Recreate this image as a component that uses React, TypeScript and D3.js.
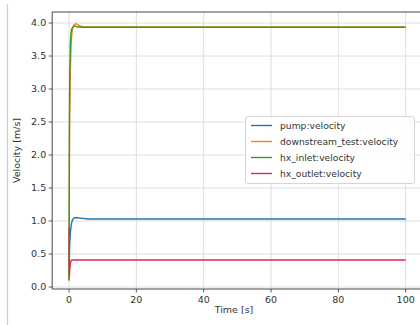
import React from "react";
import * as d3 from "d3";

const time = [0, 0.1, 0.2, 0.4, 0.6, 0.8, 1.0, 1.2, 1.5, 2, 2.5, 3, 4, 5, 6, 8, 10, 15, 20, 30, 40, 50, 60, 70, 80, 90, 100];
const pump = [0.2, 0.45, 0.65, 0.82, 0.92, 0.98, 1.01, 1.03, 1.045, 1.05, 1.05, 1.045, 1.04, 1.035, 1.03, 1.03, 1.03, 1.03, 1.03, 1.03, 1.03, 1.03, 1.03, 1.03, 1.03, 1.03, 1.03];
const downstream = [0.1, 1.6, 2.6, 3.3, 3.65, 3.82, 3.9, 3.94, 3.97, 3.99, 3.98, 3.96, 3.945, 3.94, 3.94, 3.94, 3.94, 3.94, 3.94, 3.94, 3.94, 3.94, 3.94, 3.94, 3.94, 3.94, 3.94];
const hxInlet = [0.1, 2.4, 3.2, 3.7, 3.86, 3.91, 3.93, 3.94, 3.96, 3.95, 3.94, 3.94, 3.935, 3.935, 3.935, 3.935, 3.935, 3.935, 3.935, 3.935, 3.935, 3.935, 3.935, 3.935, 3.935, 3.935, 3.935];
const hxOutlet = [0.9, 0.15, 0.25, 0.36, 0.4, 0.41, 0.41, 0.41, 0.41, 0.41, 0.41, 0.41, 0.41, 0.41, 0.41, 0.41, 0.41, 0.41, 0.41, 0.41, 0.41, 0.41, 0.41, 0.41, 0.41, 0.41, 0.41];

const seriesNames = ["pump:velocity", "downstream_test:velocity", "hx_inlet:velocity", "hx_outlet:velocity"];
const seriesValues = [pump, downstream, hxInlet, hxOutlet];
const seriesColors = ["#1f77b4", "#ff7f0e", "#2ca02c", "#dd2c4c"];
const xTicks = [0, 20, 40, 60, 80, 100];
const yTicks = [0, 0.5, 1.0, 1.5, 2.0, 2.5, 3.0, 3.5, 4.0];

export default function App() {
  const W = 420, H = 325;
  const left = 52.2, right = 422.5, top = 12, bottom = 289;
  const x = d3.scaleLinear().domain([-5, 105]).range([left, right]);
  const y = d3.scaleLinear().domain([-0.03, 4.167]).range([bottom, top]);
  const font = "DejaVu Sans, sans-serif";
  const line = (vals: number[]) =>
    d3.line<number>().x((_, i) => x(time[i])).y((v) => y(v))(vals) || "";

  return (
    <svg width={W} height={H} style={{ position: "absolute", left: 0, top: 0, background: "#fff" }} fontFamily={font}>
      <rect x={0} y={0} width={W} height={H} fill="#fff" />
      <line x1={7.5} x2={7.5} y1={4} y2={H} stroke="#cfcfcf" strokeWidth={1.2} />
      <defs>
        <clipPath id="plot">
          <rect x={left} y={top} width={right - left} height={bottom - top} />
        </clipPath>
      </defs>
      {xTicks.map((t) => (
        <line key={"gx" + t} x1={x(t)} x2={x(t)} y1={top} y2={bottom} stroke="#d6d6d6" strokeWidth={0.8} />
      ))}
      {yTicks.map((t) => (
        <line key={"gy" + t} x1={left} x2={right} y1={y(t)} y2={y(t)} stroke="#d6d6d6" strokeWidth={0.8} />
      ))}
      <g clipPath="url(#plot)">
        {seriesValues.map((vals, i) => (
          <path key={i} d={line(vals)} fill="none" stroke={seriesColors[i]} strokeWidth={1.4} strokeLinejoin="round" />
        ))}
      </g>
      <line x1={left} x2={left} y1={top} y2={bottom} stroke="#333" strokeWidth={0.9} />
      <line x1={left} x2={right} y1={bottom} y2={bottom} stroke="#333" strokeWidth={0.9} />
      <line x1={left} x2={right} y1={top} y2={top} stroke="#333" strokeWidth={0.9} />
      <line x1={right} x2={right} y1={top} y2={bottom} stroke="#333" strokeWidth={0.9} />
      {xTicks.map((t) => (
        <g key={"xt" + t}>
          <line x1={x(t)} x2={x(t)} y1={bottom} y2={bottom + 3.5} stroke="#333" strokeWidth={0.8} />
          <text x={x(t)} y={bottom + 14} fontSize={9.5} textAnchor="middle" fill="#333">{t}</text>
        </g>
      ))}
      {yTicks.map((t) => (
        <g key={"yt" + t}>
          <line x1={left - 3.5} x2={left} y1={y(t)} y2={y(t)} stroke="#333" strokeWidth={0.8} />
          <text x={left - 6} y={y(t) + 3.4} fontSize={9.5} textAnchor="end" fill="#333">{t.toFixed(1)}</text>
        </g>
      ))}
      <text x={234} y={313} fontSize={9.5} textAnchor="middle" fill="#333">Time [s]</text>
      <text transform={`translate(20,${(top + bottom) / 2}) rotate(-90)`} fontSize={9.5} textAnchor="middle" fill="#333">Velocity [m/s]</text>
      <rect x={245.5} y={116.5} width={169} height={67} rx={2.5} fill="#fff" fillOpacity={0.85} stroke="#d0d0d0" strokeWidth={0.9} />
      {seriesNames.map((n, i) => (
        <g key={n}>
          <line x1={251} x2={272} y1={125.5 + i * 16} y2={125.5 + i * 16} stroke={seriesColors[i]} strokeWidth={1.4} />
          <text x={280} y={125.5 + i * 16 + 3.3} fontSize={9.2} fill="#333">{n}</text>
        </g>
      ))}
    </svg>
  );
}
